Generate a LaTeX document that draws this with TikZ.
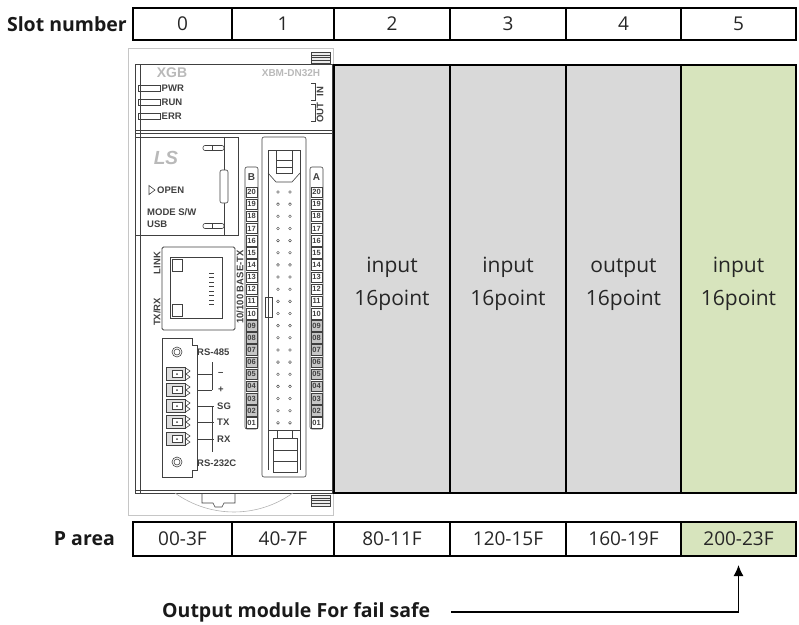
\documentclass[tikz,border=0pt]{standalone}
\usepackage{fontspec}
\setmainfont{Open Sans}
\newfontfamily\plcfont{Liberation Sans}
\usetikzlibrary{positioning}
\usetikzlibrary{arrows.meta}
\definecolor{modgray}{HTML}{D9D9D9}
\definecolor{modgreen}{HTML}{D7E4BD}
\newcommand{\modtext}[1]{\rule{0pt}{26pt}#1\\16point}

\tikzset{
  cell/.style={draw, line width=1.6pt, outer sep=0pt, inner sep=0pt, minimum height=32pt,
    text=black!85, font=\fontsize{19}{19}\selectfont},
  module/.style={draw, line width=1.6pt, outer sep=0pt, inner sep=0pt, minimum height=428pt,
    align=center, text=black!85, font=\fontsize{21}{33}\selectfont},
  heading/.style={inner sep=0pt, text=black!90, font=\bfseries\fontsize{19.5}{19.5}\selectfont},
  plc/.style={line width=0.6pt, black!75},
  tiny/.style={inner sep=0pt, text=black!75, font=\plcfont\bfseries\fontsize{9.5}{9.5}\selectfont},
}

\begin{document}
\begin{tikzpicture}[x=1pt,y=-1pt]
\useasboundingbox (0,0) rectangle (799,624);

% slot numbers
\node[cell, minimum width=99pt] (slot0) at (182.5,24) {0};
\node[cell, minimum width=102pt, right=0pt of slot0] (slot1) {1};
\node[cell, minimum width=116pt, right=0pt of slot1] (slot2) {2};
\node[cell, minimum width=116pt, right=0pt of slot2] (slot3) {3};
\node[cell, minimum width=115pt, right=0pt of slot3] (slot4) {4};
\node[cell, minimum width=115pt, right=0pt of slot4] (slot5) {5};
\node[heading, left=6pt of slot0] (slotlbl) {Slot number};

% PLC frame
\draw[gray!45, line width=0.8pt] (128,48) rectangle (333,515);
\foreach \y in {52,495} {
  \draw[plc, fill=gray!15] (311,\y) rectangle (330,\y+11);
  \foreach \d in {3,5.5,8} \draw[plc, line width=0.4pt] (311,\y+\d) -- (330,\y+\d);
}
\draw[plc, line width=1pt] (135,64) rectangle (332,493);
\draw[plc] (140,64) -- (140,493);
\draw[plc] (135,490) -- (332,490);
\draw[plc, line width=1pt] (135,130) -- (332,130);
\draw[plc] (135,133.5) -- (332,133.5);

% top panel
\node[text=gray!55, inner sep=0pt, font=\plcfont\bfseries\fontsize{14}{14}\selectfont] (xgb) at (172,73) {XGB};
\node[text=gray!55, inner sep=0pt, font=\plcfont\bfseries\fontsize{10}{10}\selectfont] (model) at (291,73) {XBM-DN32H};
\foreach \y/\t in {88/PWR,102/RUN,116/ERR} {
  \draw[plc] (138,\y-3) rectangle (160,\y+3);
  \node[tiny, anchor=west] (led\t) at (161.5,\y) {\t};
}
\draw[plc] (311,83) -- (315,83) -- (315,100) -- (311,100);
\node[tiny, rotate=90] (in) at (320,91.5) {IN};
\draw[plc] (311,104) -- (315,104) -- (315,121) -- (311,121);
\node[tiny, rotate=90] (out) at (320,112.5) {OUT};

% usb panel
\draw[plc, line width=1pt] (135,137) rectangle (238,235);
\node[text=gray!55, inner sep=0pt, font=\plcfont\bfseries\itshape\fontsize{19}{19}\selectfont] (ls) at (166,158) {LS};
\draw[plc] (149,185.5) -- (155,190) -- (149,194.5) -- cycle;
\node[tiny, anchor=west] (open) at (157,190) {OPEN};
\node[tiny, anchor=west] (mode) at (147,212) {MODE S/W};
\node[tiny, anchor=west] (usb) at (147,224) {USB};
\draw[plc] (224,138) -- (224,235);
\draw[plc, fill=white, rounded corners=2pt] (220,170) rectangle (228,203);
\foreach \y in {148,226} {
  \draw[plc, rounded corners=2pt] (203,\y-2.5) rectangle (224,\y+2.5);
  \draw[plc] (212,\y-2.5) -- (212,\y+2.5);
}

% connector
\draw[plc, rounded corners=2pt] (262,137) rectangle (306,477);
\draw[plc] (268,150) -- (268,470) (300,150) -- (300,470) (268,150) -- (300,150);
\draw[plc] (276,150) rectangle (292,173);
\draw[plc] (276,160) -- (292,160) (276,167) -- (292,167);
\draw[plc] (268,173) -- (276,182) -- (292,182) -- (300,173);
\draw[plc] (265,297) rectangle (272,317);
\draw[plc] (268,430) -- (300,430);
\draw[plc] (277,430) rectangle (292,438);
\draw[plc] (273,438) rectangle (297,472);
\draw[plc] (273,450) -- (297,450) (273,461) -- (297,461);
\foreach \k in {0,...,19} {
  \draw[plc, line width=0.4pt] (278,192+12.15*\k) circle (1.4pt);
  \draw[plc, line width=0.4pt] (290,192+12.15*\k) circle (1.4pt);
}
\foreach \xc/\col in {251.5/B,316.5/A} {
  \draw[plc, rounded corners=2pt] (\xc-6.5,167) rectangle (\xc+6.5,429);
  \node[tiny, font=\plcfont\bfseries\fontsize{10}{10}\selectfont] (hdr\col) at (\xc,177) {\col};
  \foreach \k in {0,...,19} {
    \pgfmathtruncatemacro\num{20-\k}
    \pgfmathsetmacro\yc{192+12.15*\k}
    \ifnum\num<10 \edef\lbl{0\num}\else\edef\lbl{\num}\fi
    \ifnum\num<10 \ifnum\num>1 \def\cellfill{gray!45}\else\def\cellfill{white}\fi
    \else \def\cellfill{white}\fi
    \node[tiny, draw=black!75, line width=0.5pt, fill=\cellfill, minimum width=11.5pt, minimum height=10.5pt,
      font=\plcfont\bfseries\fontsize{7.5}{7.5}\selectfont] (\col\lbl) at (\xc,\yc) {\lbl};
  }
}

% ethernet
\draw[plc, line width=0.8pt, rounded corners=1.5pt] (162,247) rectangle (235,330);
\draw[plc] (170,257) rectangle (222,318);
\draw[plc] (172,259) rectangle (182,271);
\draw[plc] (172,304) rectangle (182,316);
\foreach \k in {0,...,7} \draw[plc, line width=0.5pt] (209,273+4.5*\k) -- (214,273+4.5*\k);
\node[tiny, rotate=90] (link) at (157,263) {LINK};
\node[tiny, rotate=90] (txrx) at (157,312) {TX/RX};
\node[tiny, rotate=90] (base) at (240,287) {10/100 BASE-TX};

% terminal block
\draw[plc, line width=0.8pt] (162,338) -- (192,338) -- (192,345) -- (197,345) -- (197,470)
  -- (192,470) -- (192,477) -- (162,477) -- cycle;
\foreach \y in {352,462} {
  \draw[plc] (177,\y) circle (5pt);
  \draw[plc] (177,\y) circle (3pt);
}
\foreach \y in {374,390,406,422,439} {
  \draw[plc, fill=gray!25] (166,\y-6.5) rectangle (185,\y+6.5);
  \draw[plc, fill=white] (172,\y-3.5) rectangle (182,\y+3.5);
  \fill[black!75] (177,\y) circle (1pt);
  \draw[plc] (185,\y-6.5) -- (190,\y-3) -- (186,\y) -- (190,\y+3) -- (185,\y+6.5);
}
\node[tiny, anchor=west] (rs485) at (197,352) {RS-485};
\draw[plc] (212,362) -- (212,390);
\draw[plc] (197,374) -- (212,374) (197,390) -- (212,390);
\node[tiny, anchor=west] (minus) at (218,374) {\textendash};
\node[tiny, anchor=west] (plus) at (218,390) {+};
\draw[plc] (212,406) -- (212,452);
\draw[plc] (197,406) -- (214,406) (197,422) -- (214,422) (197,439) -- (214,439);
\node[tiny, anchor=west] (sg) at (217,406) {SG};
\node[tiny, anchor=west] (tx) at (217,422) {TX};
\node[tiny, anchor=west] (rx) at (217,439) {RX};
\node[tiny, anchor=west] (rs232) at (197,463) {RS-232C};

% base
\draw[gray!60, line width=0.6pt] (175,493) arc[start angle=125.7, end angle=54.3, radius=101];
\draw[plc] (202,493) -- (202,503) -- (213,503) -- (215,507) -- (222,507) -- (224,503) -- (235,503) -- (235,493);

% modules
\node[module, fill=modgray, minimum width=116pt, anchor=north west] (mod2) at (334,65) {\modtext{input}};
\node[module, fill=modgray, minimum width=116pt, right=0pt of mod2] (mod3) {\modtext{input}};
\node[module, fill=modgray, minimum width=115pt, right=0pt of mod3] (mod4) {\modtext{output}};
\node[module, fill=modgreen, minimum width=115pt, right=0pt of mod4] (mod5) {\modtext{input}};

% P area
\node[cell, minimum width=99pt, minimum height=34pt] (parea0) at (182.5,539) {00-3F};
\node[cell, minimum width=102pt, minimum height=34pt, right=0pt of parea0] (parea1) {40-7F};
\node[cell, minimum width=116pt, minimum height=34pt, right=0pt of parea1] (parea2) {80-11F};
\node[cell, minimum width=116pt, minimum height=34pt, right=0pt of parea2] (parea3) {120-15F};
\node[cell, minimum width=115pt, minimum height=34pt, right=0pt of parea3] (parea4) {160-19F};
\node[cell, minimum width=115pt, minimum height=34pt, fill=modgreen, right=0pt of parea4] (parea5) {200-23F};
\node[heading, left=18pt of parea0] (parealbl) {P area};

\node[heading, anchor=west] (failsafe) at (162,612) {Output module For fail safe};
\draw[line width=1.2pt, -{Latex[length=11pt,width=10pt]}, shorten <=21pt, shorten >=9pt] (failsafe.east) -| (parea5.south);
\end{tikzpicture}
\end{document}
